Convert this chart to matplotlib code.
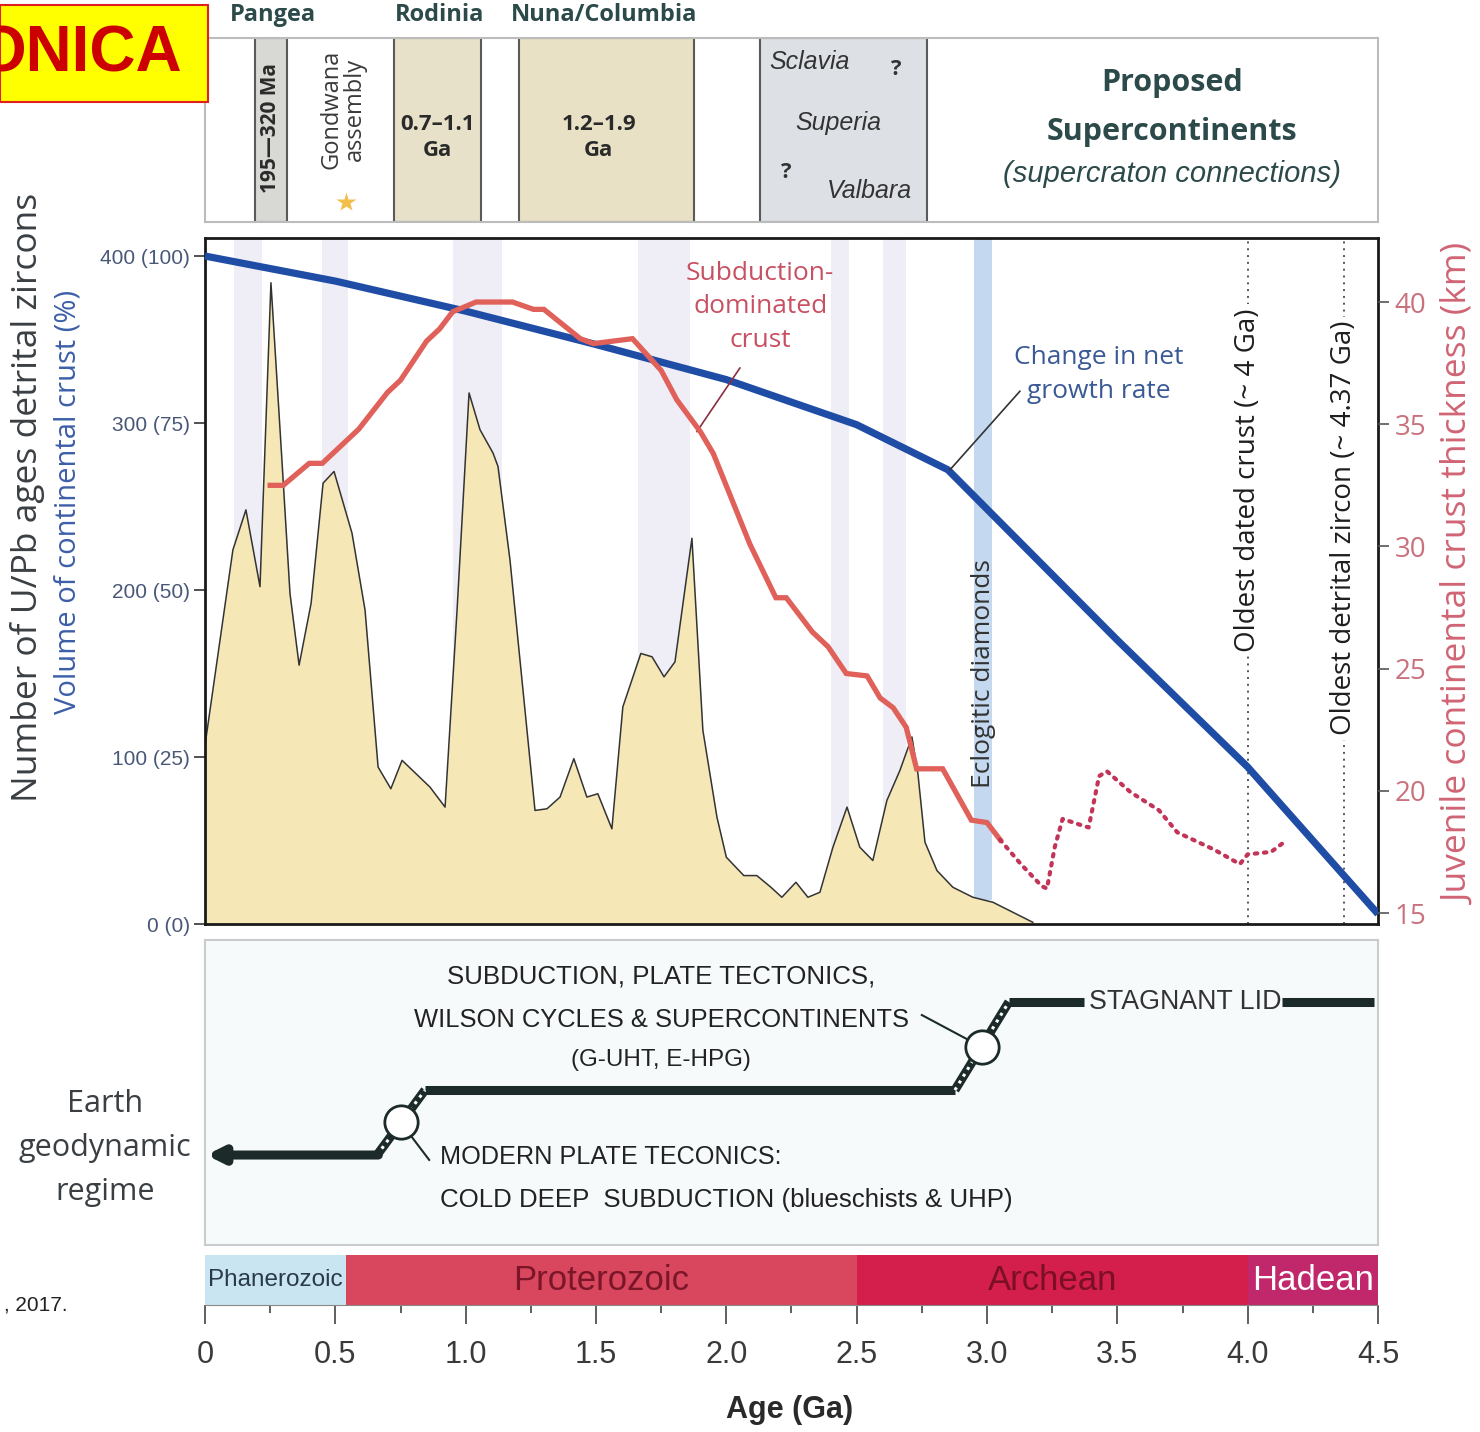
import numpy as np
import matplotlib.pyplot as plt
from matplotlib.patches import Rectangle

# ---- values ----
zircon_age = [0.0, 0.107, 0.157, 0.211, 0.253, 0.295, 0.326, 0.361, 0.407, 0.453,
              0.495, 0.564, 0.614, 0.664, 0.713, 0.756, 0.863, 0.921, 0.967, 1.013,
              1.055, 1.105, 1.124, 1.17, 1.266, 1.312, 1.362, 1.415, 1.465, 1.507,
              1.561, 1.603, 1.672, 1.715, 1.761, 1.803, 1.868, 1.91, 1.964, 2.0,
              2.067, 2.117, 2.171, 2.213, 2.267, 2.313, 2.359, 2.409, 2.463, 2.512,
              2.562, 2.616, 2.666, 2.712, 2.735, 2.762, 2.808, 2.869, 2.946, 3.023,
              3.176]
zircon_count = [107, 224, 248, 202, 384, 278, 198, 155, 192, 264,
                271, 234, 188, 94, 81, 98, 82, 70, 188, 318,
                296, 282, 274, 218, 68, 69, 76, 99, 76, 78,
                57, 130, 162, 160, 148, 157, 231, 116, 64, 40,
                29, 29, 22, 16, 25, 16, 19, 46, 70, 46,
                38, 74, 92, 112, 90, 49, 32, 22, 16, 13,
                1]

volume_age = [0, 0.5, 1.0, 1.5, 2.0, 2.5, 2.85, 3.5, 4.0, 4.5]
volume_val = [400, 385, 367, 347, 326, 299, 272, 170, 94, 6]

thick_age = [0.25, 0.30, 0.40, 0.45, 0.59, 0.70, 0.75, 0.85, 0.90, 0.95,
             1.04, 1.18, 1.26, 1.30, 1.44, 1.49, 1.64, 1.75, 1.81, 1.90,
             1.95, 2.09, 2.19, 2.23, 2.33, 2.39, 2.46, 2.54, 2.59, 2.64,
             2.69, 2.73, 2.83, 2.94, 3.00, 3.05]
thick_km = [32.5, 32.5, 33.4, 33.4, 34.8, 36.3, 36.8, 38.4, 38.9, 39.6,
            40.0, 40.0, 39.7, 39.7, 38.5, 38.3, 38.5, 37.2, 36.0, 34.7,
            33.8, 30.1, 27.9, 27.9, 26.5, 25.9, 24.8, 24.7, 23.8, 23.4,
            22.6, 20.9, 20.9, 18.8, 18.7, 18.0]

dot_age = [3.05, 3.13, 3.21, 3.23, 3.26, 3.29, 3.36, 3.39, 3.43, 3.46,
           3.55, 3.66, 3.73, 3.87, 3.97, 4.00, 4.09, 4.14]
dot_km = [18.0, 17.0, 16.1, 16.0, 17.7, 18.85, 18.6, 18.5, 20.6, 20.8,
          19.95, 19.2, 18.3, 17.6, 17.0, 17.4, 17.5, 17.9]

left_ticks = [0, 100, 200, 300, 400]
left_labels = ["0 (0)", "100 (25)", "200 (50)", "300 (75)", "400 (100)"]
right_ticks = [15, 20, 25, 30, 35, 40]

bands = [(0.11, 0.22), (0.45, 0.55), (0.95, 1.14), (1.66, 1.86), (2.40, 2.47), (2.60, 2.69)]
eclogite_band = (2.95, 3.02)

eons = ["Phanerozoic", "Proterozoic", "Archean", "Hadean"]
eon_start = [0.0, 0.54, 2.5, 4.0]
eon_end = [0.54, 2.5, 4.0, 4.5]
eon_fill = ["#c9e5f2", "#d9475f", "#d41f4c", "#c1286c"]
eon_text = ["#2a3a4a", "#7a1628", "#7a0f25", "white"]
eon_size = [17.5, 25, 25, 25]

sc_start = [0.19, 0.725, 1.204, 2.129]
sc_end = [0.315, 1.059, 1.876, 2.77]
sc_fill = ["#d8d8d4", "#e7e1c9", "#e9e1c5", "#dde1e6"]

FONT = ["Open Sans", "DejaVu Sans"]
NARROW = ["Liberation Sans Narrow", "Liberation Sans", "DejaVu Sans"]
TEAL = "#2c4a4a"

fig = plt.figure(figsize=(14.8, 14.32), dpi=100)
L, W = 205 / 1480, 1173 / 1480


def fy(py):
    return 1 - py / 1432


# ---- main panel ----
ax = fig.add_axes([L, fy(924), W, (924 - 238) / 1432])
ax.set_xlim(0, 4.5)
ax.set_ylim(0, 410.8)
for a, b in bands:
    ax.axvspan(a, b, color="#efedf5", lw=0, zorder=0)
ax.axvspan(*eclogite_band, ymin=0.035, ymax=1, color="#c4d9ef", lw=0, zorder=0.5)

ax.fill_between(zircon_age, zircon_count, color="#f6e7b6", lw=0, zorder=1)
ax.plot(zircon_age, zircon_count, color="#333333", lw=1.1, zorder=2)

for xv in (4.0, 4.37):
    ax.axvline(xv, color="#555555", lw=1.4, ls=(0, (1, 2.5)), zorder=1)

ax.text(4.0, 266, "Oldest dated crust (~ 4 Ga)", rotation=90, ha="center", va="center",
        fontsize=20, family=FONT, color="#1e1e1e", zorder=3,
        bbox=dict(fc="white", ec="none", pad=3))
ax.text(4.37, 237, "Oldest detrital zircon (~ 4.37 Ga)", rotation=90, ha="center", va="center",
        fontsize=20, family=FONT, color="#1e1e1e", zorder=3,
        bbox=dict(fc="white", ec="none", pad=3))
ax.text(2.985, 150, "Eclogitic diamonds", rotation=90, ha="center", va="center",
        fontsize=19, family=FONT, color="#333333", zorder=3)

ax.plot(volume_age, volume_val, color="#1f4da6", lw=5.2, solid_capstyle="butt", zorder=4)

ax.tick_params(axis="x", bottom=False, labelbottom=False)
ax.set_yticks(left_ticks)
ax.set_yticklabels(left_labels, family=NARROW, fontsize=15, color="#4a5878")
ax.tick_params(axis="y", direction="out", length=8, width=1.2, pad=3, color="#333333")
for s in ax.spines.values():
    s.set_linewidth(2)
    s.set_color("#1a1a1a")

ax2 = ax.twinx()
ax2.set_ylim(14.55, 42.62)
ax2.plot(thick_age, thick_km, color="#e0605a", lw=3.8, solid_joinstyle="miter", zorder=5)
ax2.plot(dot_age, dot_km, color="#c23458", lw=3, ls=(0, (0.6, 1.6)),
         dash_capstyle="round", zorder=5)
ax2.set_yticks(right_ticks)
ax2.set_yticklabels([str(t) for t in right_ticks], family=FONT, fontsize=20, color="#c9727e")
ax2.tick_params(axis="y", direction="out", length=8, width=1.2, pad=4, color="#555555")
for s in ax2.spines.values():
    s.set_visible(False)

ax2.text(2.13, 39.8, "Subduction-\ndominated\ncrust", ha="center", va="center",
         fontsize=19, family=FONT, color="#c85062", linespacing=1.45)
ax2.plot([2.052, 1.887], [37.3, 34.7], color="#8a3040", lw=1.2)
ax.text(3.43, 329, "Change in net\ngrowth rate", ha="center", va="center",
        fontsize=19, family=FONT, color="#3a5a96", linespacing=1.5)
ax.plot([3.126, 2.858], [319, 272], color="#333333", lw=1.2, zorder=4)

fig.text(28 / 1480, fy(497), "Number of U/Pb ages detrital zircons", rotation=90,
         ha="center", va="center", fontsize=25.5, family=FONT, color="#3a3f44")
fig.text(68 / 1480, fy(502), "Volume of continental crust (%)", rotation=90,
         ha="center", va="center", fontsize=21, family=FONT, color="#3d5fa8")
fig.text(1460 / 1480, fy(574), "Juvenile continental crust thickness (km)", rotation=90,
         ha="center", va="center", fontsize=25.5, family=FONT, color="#d06474")

# ---- proposed supercontinents panel ----
axt = fig.add_axes([L, fy(222), W, (222 - 38) / 1432])
axt.set_xlim(0, 4.5)
axt.set_ylim(0, 1)
axt.set_xticks([])
axt.set_yticks([])
for s in axt.spines.values():
    s.set_color("#bcbcbc")
    s.set_linewidth(1.5)
for a, b, c in zip(sc_start, sc_end, sc_fill):
    axt.add_patch(Rectangle((a, 0), b - a, 1, fc=c, ec="#5a5a5a", lw=1.5))

axt.text(0.2525, 0.51, "195\u2014320 Ma", rotation=90, ha="center", va="center",
         fontsize=15, weight="bold", family=FONT, color="#2a2a2a")
axt.text(0.53, 0.61, "Gondwana\nassembly", rotation=90, ha="center", va="center",
         fontsize=17, family=FONT, color="#3a3a3a", linespacing=0.95)
axt.plot([0.54], [0.11], marker="*", ms=15, color="#f2bf4a", mec="none")
axt.text(0.892, 0.46, "0.7\u20131.1\nGa", ha="center", va="center", fontsize=16,
         weight="bold", family=FONT, color="#2a2a2a", linespacing=1.35)
axt.text(1.51, 0.46, "1.2\u20131.9\nGa", ha="center", va="center", fontsize=16,
         weight="bold", family=FONT, color="#2a2a2a", linespacing=1.35)
axt.text(2.32, 0.87, "Sclavia", ha="center", va="center", fontsize=18,
         style="italic", family=NARROW, color="#333333")
axt.text(2.65, 0.83, "?", ha="center", va="center", fontsize=16, weight="bold",
         family=FONT, color="#333333")
axt.text(2.43, 0.54, "Superia", ha="center", va="center", fontsize=18,
         style="italic", family=NARROW, color="#333333")
axt.text(2.23, 0.27, "?", ha="center", va="center", fontsize=16, weight="bold",
         family=FONT, color="#333333")
axt.text(2.55, 0.17, "Valbara", ha="center", va="center", fontsize=18,
         style="italic", family=NARROW, color="#333333")
axt.text(3.71, 0.755, "Proposed", ha="center", va="center", fontsize=22,
         weight="bold", family=FONT, color=TEAL)
axt.text(3.71, 0.49, "Supercontinents", ha="center", va="center", fontsize=22,
         weight="bold", family=FONT, color=TEAL)
axt.text(3.71, 0.26, "(supercraton connections)", ha="center", va="center",
         fontsize=21, style="italic", family=NARROW, color=TEAL)
for name, xc in zip(["Pangea", "Rodinia", "Nuna/Columbia"], [0.26, 0.90, 1.53]):
    axt.text(xc, 1.125, name, ha="center", va="center", fontsize=17, weight="bold",
             family=FONT, color=TEAL, clip_on=False)

# ---- geodynamic regime panel ----
axm = fig.add_axes([L, fy(1245), W, (1245 - 940) / 1432])
axm.set_xlim(0, 4.5)
axm.set_ylim(0, 1)
axm.set_xticks([])
axm.set_yticks([])
axm.set_facecolor("#f6fafa")
for s in axm.spines.values():
    s.set_color("#c8cccc")
    s.set_linewidth(1.5)

DARK = "#1c2a2a"
axm.annotate("", xy=(0.005, 0.295), xytext=(0.665, 0.295),
             arrowprops=dict(arrowstyle="-|>,head_length=0.9,head_width=0.45",
                             lw=6.5, color=DARK, shrinkA=0, shrinkB=0))
axm.plot([0.844, 2.877], [0.508, 0.508], color=DARK, lw=6.5, solid_capstyle="butt")
axm.plot([3.084, 3.372], [0.797, 0.797], color=DARK, lw=6.5, solid_capstyle="butt")
axm.plot([4.131, 4.484], [0.797, 0.797], color=DARK, lw=6.5, solid_capstyle="butt")
for xs, ys in [([0.66, 0.844], [0.295, 0.508]), ([2.877, 3.084], [0.508, 0.797])]:
    axm.plot(xs, ys, color=DARK, lw=6.5, solid_capstyle="butt")
    axm.plot(xs, ys, color="white", lw=2.2, ls=(0, (1, 1.6)))
axm.plot([0.86, 0.75], [0.279, 0.403], color=DARK, lw=1.5)
axm.plot([2.75, 2.98], [0.754, 0.649], color=DARK, lw=1.5)
axm.plot([0.75, 2.98], [0.403, 0.649], ls="none", marker="o", ms=24, mfc="white",
         mec=DARK, mew=2)

axm.text(1.75, 0.879, "SUBDUCTION, PLATE TECTONICS,", ha="center", va="center",
         fontsize=18.6, family=NARROW, color="#222222")
axm.text(1.75, 0.738, "WILSON CYCLES & SUPERCONTINENTS", ha="center", va="center",
         fontsize=18.4, family=NARROW, color="#222222")
axm.text(1.75, 0.607, "(G-UHT, E-HPG)", ha="center", va="center",
         fontsize=17.4, family=NARROW, color="#222222")
axm.text(3.39, 0.797, "STAGNANT LID", ha="left", va="center",
         fontsize=19.3, family=NARROW, color="#333333")
axm.text(0.9, 0.289, "MODERN PLATE TECONICS:", ha="left", va="center",
         fontsize=18.2, family=NARROW, color="#222222")
axm.text(0.9, 0.148, "COLD DEEP  SUBDUCTION (blueschists & UHP)", ha="left", va="center",
         fontsize=18.6, family=NARROW, color="#222222")
fig.text(105 / 1480, fy(1148), "Earth\ngeodynamic\nregime", ha="center", va="center",
         fontsize=22, family=FONT, color="#3a3f44", linespacing=1.6)

# ---- eon bar and age axis ----
axe = fig.add_axes([L, fy(1305), W, 50 / 1432])
axe.set_xlim(0, 4.5)
axe.set_ylim(0, 1)
for name, a, b, c, tc, fs in zip(eons, eon_start, eon_end, eon_fill, eon_text, eon_size):
    axe.axvspan(a, b, color=c, lw=0)
    axe.text((a + b) / 2, 0.5, name, ha="center", va="center", fontsize=fs,
             family=NARROW, color=tc)
for s in ["top", "left", "right"]:
    axe.spines[s].set_visible(False)
axe.spines["bottom"].set_color("#888888")
axe.set_yticks([])
axe.set_xticks(np.arange(0, 4.51, 0.5))
axe.set_xticks(np.arange(0.25, 4.5, 0.5), minor=True)
axe.set_xticklabels(["0", "0.5", "1.0", "1.5", "2.0", "2.5", "3.0", "3.5", "4.0", "4.5"],
                    family=NARROW, fontsize=22, color="#3a3a3a")
axe.tick_params(axis="x", which="major", length=14, width=1.2, pad=11, color="#444444")
axe.tick_params(axis="x", which="minor", length=6, width=1.2, color="#444444")
fig.text(790 / 1480, fy(1410), "Age (Ga)", ha="center", va="center", fontsize=22,
         weight="bold", family=NARROW, color="#2a2a2a")

# ---- stray labels from the slide ----
fig.patches.append(Rectangle((0, fy(102)), 208 / 1480, 97 / 1432, transform=fig.transFigure,
                             fc="#ffff00", ec="#e02020", lw=1.5, figure=fig))
fig.text(182 / 1480, fy(55), "ONICA", ha="right", va="center", fontsize=46,
         weight="bold", family=["Liberation Sans", "DejaVu Sans"], color="#cc0000")
fig.text(68 / 1480, fy(1305), ", 2017.", ha="right", va="center", fontsize=15,
         family=["Liberation Sans", "DejaVu Sans"], color="#222222")

fig.savefig("out.png", dpi=100)
